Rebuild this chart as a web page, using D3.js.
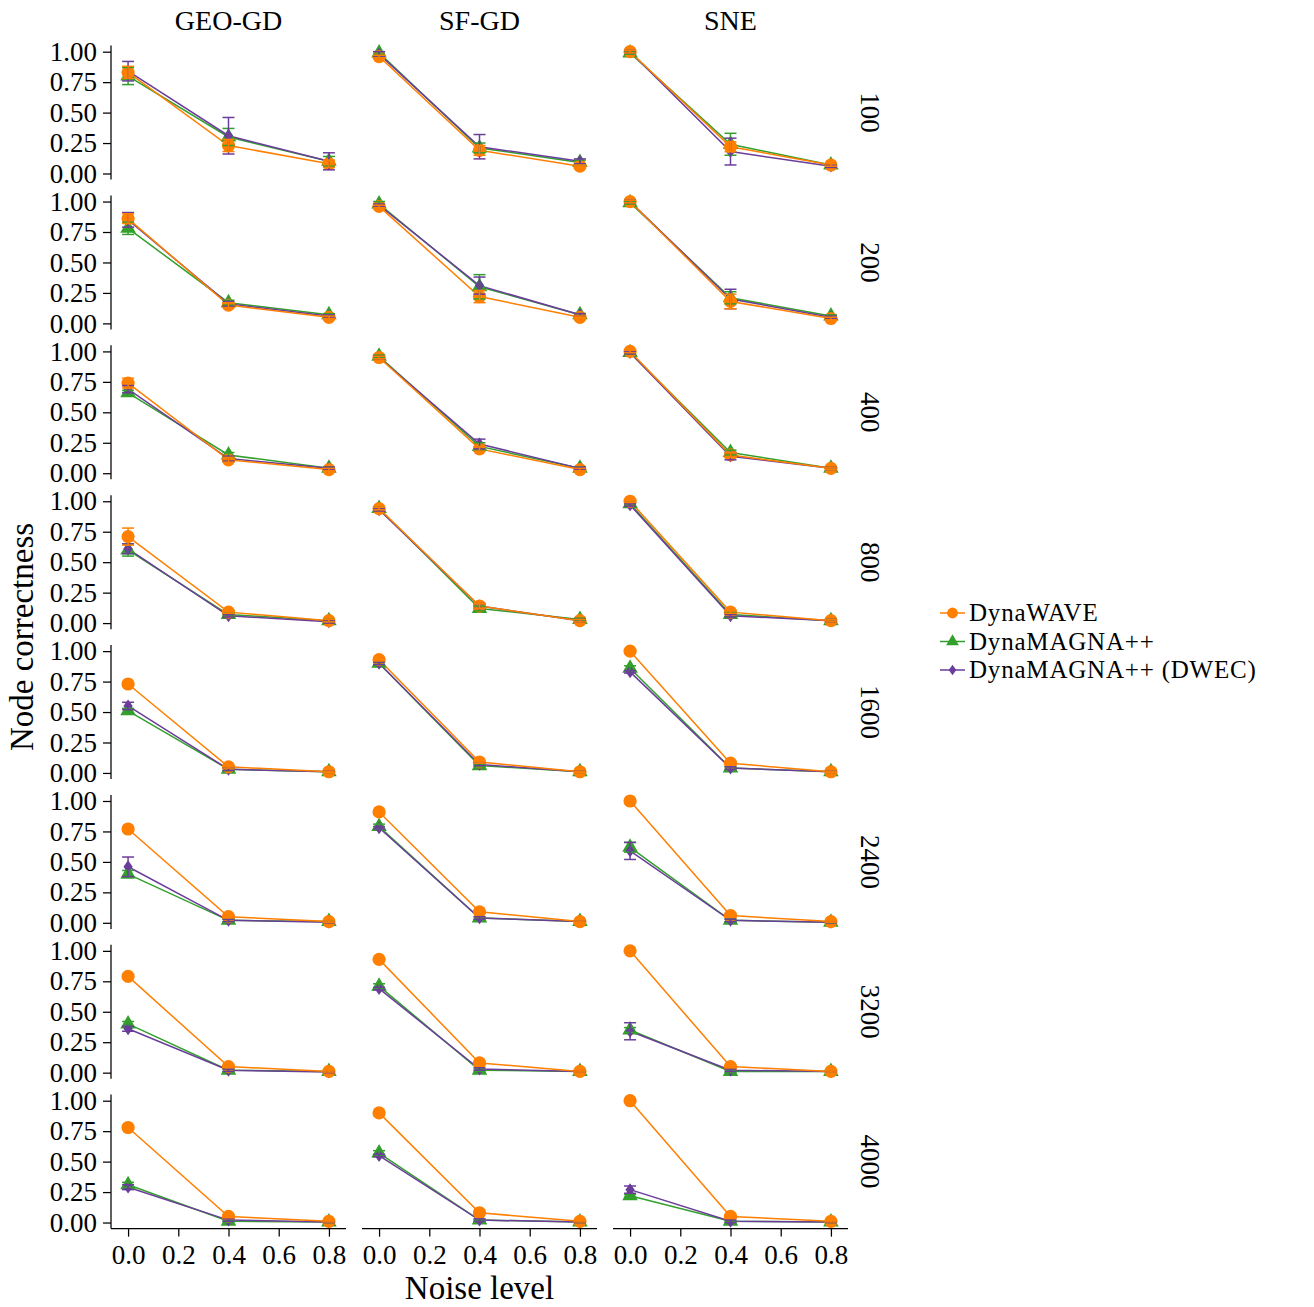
<!DOCTYPE html>
<html>
<head>
<meta charset="utf-8">
<script src="https://cdn.jsdelivr.net/npm/d3@7"></script>
<style>
  body { margin: 0; background: #fff; }
  svg text { font-family: "Liberation Serif", "Times New Roman", serif; fill: #000; }
</style>
</head>
<body>
<svg id="chart" width="1314" height="1307"></svg>
<script>
// facets
const methods = ["GEO-GD", "SF-GD", "SNE"];
const sizes = ["100", "200", "400", "800", "1600", "2400", "3200", "4000"];
const noise = [0.0, 0.4, 0.8];
const xTicks = [0.0, 0.2, 0.4, 0.6, 0.8];
const yTicks = [0.0, 0.25, 0.5, 0.75, 1.0];
const seriesNames = ["DynaWAVE", "DynaMAGNA++", "DynaMAGNA++ (DWEC)"];

// node correctness, [size][method][noise]
const dynaWave = [
  [[0.83, 0.23, 0.08], [0.96, 0.19, 0.06], [1.00, 0.22, 0.07]],
  [[0.86, 0.15, 0.05], [0.96, 0.22, 0.05], [1.00, 0.18, 0.04]],
  [[0.74, 0.11, 0.03], [0.95, 0.20, 0.03], [1.00, 0.15, 0.04]],
  [[0.71, 0.09, 0.02], [0.94, 0.14, 0.02], [1.00, 0.09, 0.02]],
  [[0.73, 0.05, 0.01], [0.93, 0.09, 0.01], [1.00, 0.08, 0.01]],
  [[0.77, 0.05, 0.01], [0.91, 0.09, 0.01], [1.00, 0.06, 0.01]],
  [[0.79, 0.05, 0.01], [0.93, 0.08, 0.01], [1.00, 0.05, 0.01]],
  [[0.78, 0.05, 0.01], [0.90, 0.08, 0.01], [1.00, 0.05, 0.01]]
];
const dynaMagna = [
  [[0.80, 0.30, 0.10], [0.99, 0.21, 0.09], [0.99, 0.24, 0.07]],
  [[0.78, 0.17, 0.07], [0.98, 0.30, 0.07], [0.99, 0.21, 0.06]],
  [[0.66, 0.15, 0.04], [0.96, 0.22, 0.04], [0.99, 0.17, 0.04]],
  [[0.60, 0.07, 0.02], [0.94, 0.12, 0.03], [0.98, 0.07, 0.02]],
  [[0.51, 0.03, 0.01], [0.90, 0.06, 0.01], [0.86, 0.04, 0.01]],
  [[0.40, 0.02, 0.01], [0.79, 0.04, 0.01], [0.62, 0.02, 0.005]],
  [[0.40, 0.02, 0.01], [0.71, 0.02, 0.01], [0.35, 0.01, 0.01]],
  [[0.31, 0.01, 0.005], [0.57, 0.02, 0.005], [0.22, 0.01, 0.005]]
];
const dynaMagnaDwec = [
  [[0.84, 0.31, 0.10], [0.98, 0.22, 0.10], [1.00, 0.18, 0.06]],
  [[0.85, 0.16, 0.06], [0.97, 0.31, 0.07], [1.00, 0.20, 0.05]],
  [[0.69, 0.12, 0.04], [0.95, 0.24, 0.04], [0.99, 0.14, 0.04]],
  [[0.61, 0.06, 0.01], [0.93, 0.14, 0.02], [0.97, 0.06, 0.02]],
  [[0.55, 0.03, 0.01], [0.90, 0.07, 0.01], [0.83, 0.04, 0.01]],
  [[0.46, 0.02, 0.005], [0.78, 0.04, 0.01], [0.59, 0.02, 0.005]],
  [[0.36, 0.02, 0.005], [0.69, 0.03, 0.01], [0.34, 0.02, 0.01]],
  [[0.29, 0.02, 0.005], [0.55, 0.02, 0.005], [0.27, 0.01, 0.005]]
];

// error bar half widths, same layout
const dynaWaveErr = [
  [[0.05, 0.05, 0.03], [0.01, 0.04, 0.01], [0.01, 0.04, 0.01]],
  [[0.04, 0.02, 0.01], [0.01, 0.05, 0.01], [0.01, 0.06, 0.01]],
  [[0.04, 0.02, 0.01], [0.01, 0.02, 0.01], [0.01, 0.02, 0.01]],
  [[0.07, 0.01, 0.01], [0.01, 0.02, 0.01], [0.01, 0.01, 0.01]],
  [[0.01, 0.01, 0.005], [0.01, 0.01, 0.005], [0.01, 0.01, 0.005]],
  [[0.01, 0.01, 0.005], [0.01, 0.01, 0.005], [0.01, 0.01, 0.005]],
  [[0.01, 0.01, 0.005], [0.01, 0.01, 0.005], [0.01, 0.01, 0.005]],
  [[0.01, 0.01, 0.005], [0.01, 0.01, 0.005], [0.01, 0.01, 0.005]]
];
const dynaMagnaErr = [
  [[0.07, 0.07, 0.04], [0.01, 0.04, 0.02], [0.01, 0.09, 0.01]],
  [[0.05, 0.02, 0.01], [0.02, 0.10, 0.01], [0.01, 0.05, 0.01]],
  [[0.02, 0.02, 0.01], [0.01, 0.03, 0.01], [0.01, 0.02, 0.01]],
  [[0.05, 0.01, 0.01], [0.01, 0.02, 0.01], [0.01, 0.02, 0.01]],
  [[0.02, 0.01, 0.005], [0.01, 0.01, 0.005], [0.02, 0.01, 0.005]],
  [[0.03, 0.01, 0.005], [0.02, 0.01, 0.005], [0.04, 0.01, 0.005]],
  [[0.02, 0.01, 0.005], [0.02, 0.01, 0.005], [0.02, 0.01, 0.005]],
  [[0.02, 0.005, 0.005], [0.02, 0.005, 0.005], [0.01, 0.005, 0.005]]
];
const dynaMagnaDwecErr = [
  [[0.08, 0.15, 0.07], [0.02, 0.10, 0.02], [0.01, 0.11, 0.01]],
  [[0.06, 0.02, 0.01], [0.01, 0.07, 0.01], [0.01, 0.08, 0.01]],
  [[0.03, 0.02, 0.01], [0.01, 0.04, 0.01], [0.01, 0.03, 0.01]],
  [[0.04, 0.01, 0.01], [0.01, 0.02, 0.01], [0.01, 0.01, 0.01]],
  [[0.03, 0.01, 0.005], [0.01, 0.01, 0.005], [0.01, 0.01, 0.005]],
  [[0.08, 0.01, 0.005], [0.01, 0.01, 0.005], [0.07, 0.01, 0.005]],
  [[0.02, 0.01, 0.005], [0.01, 0.01, 0.005], [0.07, 0.01, 0.005]],
  [[0.02, 0.01, 0.005], [0.01, 0.01, 0.005], [0.03, 0.01, 0.005]]
];

const colors = ["#ff7f00", "#33a02c", "#6a3d9a"];
const values = [dynaWave, dynaMagna, dynaMagnaDwec];
const errors = [dynaWaveErr, dynaMagnaErr, dynaMagnaDwecErr];
const drawOrder = [1, 2, 0]; // orange markers end up on top

// geometry
const left0 = 111, colStep = 251, panelW = 235;
const top0 = 45.6, rowStep = 149.86, panelH = 134;
const rowLabelX = 861;

const x = d3.scaleLinear().domain([-0.068, 0.868]).range([0, panelW]);
const y = d3.scaleLinear().domain([-0.05, 1.05]).range([panelH, 0]);

const svg = d3.select("#chart");
svg.append("rect").attr("width", 1314).attr("height", 1307).attr("fill", "#fff");

// thin diamond like matplotlib "d"
function diamond(r) {
  const w = r * 0.72;
  return `M0,${-r}L${w},0L0,${r}L${-w},0Z`;
}
function marker(g, k, cx, cy, scale) {
  if (k === 0) {
    g.append("circle").attr("cx", cx).attr("cy", cy).attr("r", 6.6 * scale).attr("fill", colors[0]);
  } else if (k === 1) {
    g.append("path")
      .attr("d", d3.symbol().type(d3.symbolTriangle).size(105 * scale * scale)())
      .attr("transform", `translate(${cx},${cy})`)
      .attr("fill", colors[1]);
  } else {
    g.append("path")
      .attr("d", diamond(6.4 * scale))
      .attr("transform", `translate(${cx},${cy})`)
      .attr("fill", colors[2]);
  }
}

const line = d3.line().x((d, i) => x(noise[i])).y(d => y(d));

sizes.forEach((size, r) => {
  methods.forEach((method, c) => {
    const gx = left0 + c * colStep, gy = top0 + r * rowStep;
    const g = svg.append("g").attr("transform", `translate(${gx},${gy})`);

    // lines first
    drawOrder.forEach(k => {
      g.append("path")
        .datum(values[k][r][c])
        .attr("d", line)
        .attr("fill", "none")
        .attr("stroke", colors[k])
        .attr("stroke-width", 1.5);
    });

    // markers
    drawOrder.forEach(k => {
      values[k][r][c].forEach((v, i) => marker(g, k, x(noise[i]), y(v), 1));
    });

    // error bars with caps
    drawOrder.forEach(k => {
      values[k][r][c].forEach((v, i) => {
        const e = errors[k][r][c][i];
        const cx = x(noise[i]);
        const y0 = y(v - e), y1 = y(v + e);
        const eb = g.append("g").attr("stroke", colors[k]).attr("stroke-width", 1.5);
        eb.append("line").attr("x1", cx).attr("x2", cx).attr("y1", y0).attr("y2", y1);
        eb.append("line").attr("x1", cx - 6).attr("x2", cx + 6).attr("y1", y0).attr("y2", y0);
        eb.append("line").attr("x1", cx - 6).attr("x2", cx + 6).attr("y1", y1).attr("y2", y1);
      });
    });

    // y axis on first column only
    if (c === 0) {
      const ya = g.append("g")
        .call(d3.axisLeft(y).tickValues(yTicks).tickFormat(d3.format(".2f")).tickSize(8).tickPadding(6).tickSizeOuter(0));
      ya.select(".domain").attr("stroke-width", 1.25).attr("d", `M0,0V${panelH}`);
      ya.selectAll(".tick line").attr("stroke-width", 1.25);
      ya.selectAll("text").style("font-size", "27px");
    }

    // x axis on bottom row only
    if (r === sizes.length - 1) {
      const xa = g.append("g")
        .attr("transform", `translate(0,${panelH})`)
        .call(d3.axisBottom(x).tickValues(xTicks).tickFormat(d3.format(".1f")).tickSize(8).tickPadding(8).tickSizeOuter(0));
      xa.select(".domain").attr("stroke-width", 1.25).attr("d", `M0,0H${panelW}`);
      xa.selectAll(".tick line").attr("stroke-width", 1.25);
      xa.selectAll("text").style("font-size", "27px");
    }

    if (r === 0) {
      g.append("text")
        .attr("x", panelW / 2).attr("y", -16)
        .attr("text-anchor", "middle")
        .style("font-size", "28px")
        .text(method);
    }
    if (c === methods.length - 1) {
      g.append("text")
        .attr("transform", `translate(${rowLabelX - gx},${panelH / 2}) rotate(90)`)
        .attr("text-anchor", "middle")
        .style("font-size", "27px")
        .text(size);
    }
  });
});

// axis titles
svg.append("text")
  .attr("x", left0 + colStep + panelW / 2).attr("y", 1299)
  .attr("text-anchor", "middle")
  .style("font-size", "33px")
  .text("Noise level");
svg.append("text")
  .attr("transform", "translate(33,637) rotate(-90)")
  .attr("text-anchor", "middle")
  .style("font-size", "33px")
  .text("Node correctness");

// legend
const legend = svg.append("g").attr("transform", "translate(940,613)");
seriesNames.forEach((name, k) => {
  const lg = legend.append("g").attr("transform", `translate(0,${k * 28.5})`);
  lg.append("line").attr("x1", 0).attr("x2", 25).attr("stroke", colors[k]).attr("stroke-width", 1.5);
  marker(lg, k, 12.5, 0, 0.82);
  lg.append("text")
    .attr("x", 29).attr("y", 0).attr("dy", "0.33em")
    .style("font-size", "25px")
    .style("letter-spacing", "0.8px")
    .text(name);
});
</script>
</body>
</html>
